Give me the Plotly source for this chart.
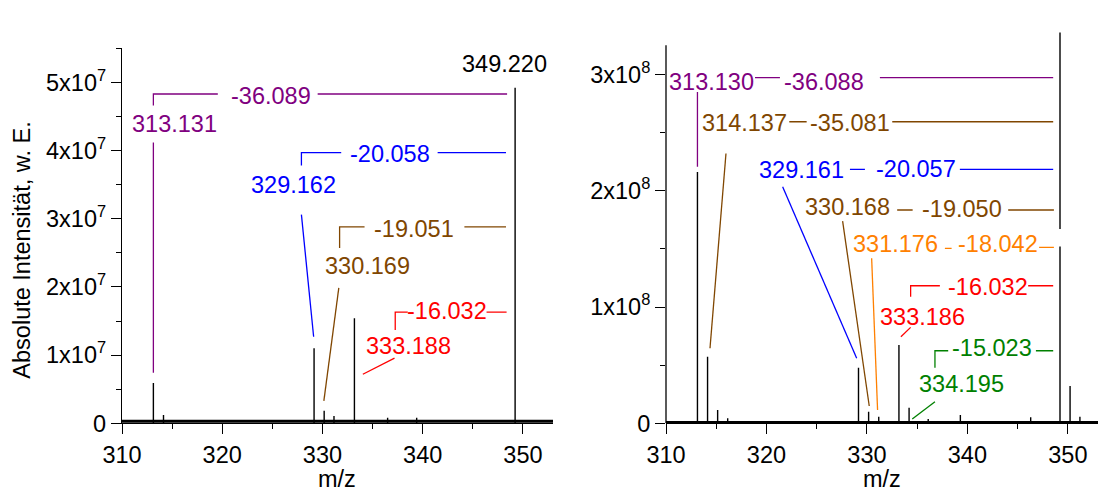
import plotly.graph_objects as go

# ---------------- data ----------------
left_mz = [313.131, 314.14, 329.162, 330.169, 331.15, 333.188, 336.5, 339.4, 349.220]
left_int = [5.9e6, 1.2e6, 1.10e7, 1.85e6, 1.07e6, 1.54e7, 0.8e6, 0.8e6, 4.92e7]

right_mz = [313.130, 314.137, 315.14, 316.14, 329.161, 330.168, 331.176, 333.186,
            334.195, 336.1, 339.3, 346.3, 349.218, 350.22, 351.2]
right_int = [2.16e8, 0.573e8, 0.114e8, 0.043e8, 0.478e8, 0.10e8, 0.057e8, 0.673e8,
             0.134e8, 0.037e8, 0.071e8, 0.052e8, 3.36e8, 0.32e8, 0.057e8]

x_ticks = [310, 320, 330, 340, 350]
x_minor = [315, 325, 335, 345]
left_yticks = [0, 1e7, 2e7, 3e7, 4e7, 5e7]
left_yticktext = ["0", "1x10<sup>7</sup>", "2x10<sup>7</sup>", "3x10<sup>7</sup>",
                  "4x10<sup>7</sup>", "5x10<sup>7</sup>"]
left_yminor = [0.5e7, 1.5e7, 2.5e7, 3.5e7, 4.5e7, 5.5e7]
right_yticks = [0, 1e8, 2e8, 3e8]
right_yticktext = ["0", "1x10<sup>8</sup>", "2x10<sup>8</sup>", "3x10<sup>8</sup>"]
right_yminor = [0.5e8, 1.5e8, 2.5e8]

PURPLE = "rgb(128,0,128)"
BLUE = "rgb(0,0,255)"
BROWN = "rgb(128,70,0)"
RED = "rgb(255,0,0)"
ORANGE = "rgb(255,128,0)"
GREEN = "rgb(0,128,0)"

# annotation groups: (color, label, label_pos, delta, delta_pos, polylines)
left_groups = [
    (PURPLE, "313.131", (315.25, 4.39e7), "-36.089", (324.9, 4.80e7),
     [[(313.131, 4.66e7), (313.131, 4.83e7), (319.56, 4.83e7)],
      [(329.52, 4.83e7), (348.42, 4.83e7)],
      [(313.131, 4.12e7), (313.131, 0.74e7)]]),
    (BLUE, "329.162", (327.06, 3.50e7), "-20.058", (336.77, 3.95e7),
     [[(327.90, 3.78e7), (327.90, 3.97e7), (331.87, 3.97e7)],
      [(341.49, 3.97e7), (348.31, 3.97e7)],
      [(327.90, 3.06e7), (329.12, 1.27e7)]]),
    (BROWN, "330.169", (334.53, 2.30e7), "-19.051", (339.18, 2.85e7),
     [[(331.71, 2.57e7), (331.71, 2.88e7), (334.20, 2.88e7)],
      [(344.16, 2.88e7), (348.31, 2.88e7)],
      [(331.63, 1.985e7), (330.14, 0.33e7)]]),
    (RED, "333.188", (338.59, 1.14e7), "-16.032", (342.42, 1.64e7),
     [[(337.26, 1.37e7), (337.26, 1.63e7), (338.51, 1.63e7)],
      [(346.37, 1.63e7), (348.37, 1.63e7)],
      [(337.19, 0.956e7), (334.03, 0.72e7)]]),
]
left_top_label = ("349.220", (348.15, 5.27e7))

right_groups = [
    (PURPLE, "313.130", (314.51, 2.937e8), "-36.088", (325.70, 2.937e8),
     [[(318.86, 2.972e8), (321.34, 2.972e8)],
      [(331.29, 2.972e8), (348.54, 2.972e8)],
      [(313.13, 2.849e8), (313.13, 2.206e8)]]),
    (BROWN, "314.137", (317.86, 2.585e8), "-35.081", (328.28, 2.585e8),
     [[(322.27, 2.593e8), (324.0, 2.593e8)],
      [(332.52, 2.593e8), (348.54, 2.593e8)],
      [(315.97, 2.32e8), (314.38, 0.645e8)]]),
    (BLUE, "329.161", (323.45, 2.178e8), "-20.057", (334.86, 2.19e8),
     [[(328.31, 2.184e8), (329.80, 2.184e8)],
      [(339.25, 2.184e8), (348.54, 2.184e8)],
      [(321.61, 2.034e8), (328.98, 0.559e8)]]),
    (BROWN, "330.168", (328.08, 1.862e8), "-19.050", (339.42, 1.84e8),
     [[(333.01, 1.834e8), (334.55, 1.834e8)],
      [(344.06, 1.834e8), (348.61, 1.834e8)],
      [(327.58, 1.739e8), (330.23, 0.149e8)]]),
    (ORANGE, "331.176", (332.82, 1.539e8), "-18.042", (343.06, 1.539e8),
     [[(337.76, 1.505e8), (338.43, 1.505e8)],
      [(347.14, 1.513e8), (348.61, 1.513e8)],
      [(330.47, 1.419e8), (331.06, 0.115e8)]]),
    (RED, "333.186", (335.54, 0.917e8), "-16.032", (342.04, 1.175e8),
     [[(334.35, 1.089e8), (334.35, 1.183e8), (337.26, 1.183e8)],
      [(346.05, 1.183e8), (348.54, 1.183e8)],
      [(334.35, 0.825e8), (333.38, 0.745e8)]]),
    (GREEN, "334.195", (339.42, 0.335e8), "-15.023", (342.49, 0.645e8),
     [[(336.77, 0.478e8), (336.77, 0.624e8), (338.09, 0.624e8)],
      [(346.82, 0.624e8), (348.54, 0.624e8)],
      [(336.77, 0.186e8), (334.51, 0.037e8)]]),
]
right_top_label = ("349.218", (349.30, 3.453e8))

left_baseline = 0.3e6
right_baseline = 1.2e6

FONT = "Arial, 'Liberation Sans', sans-serif"
FS = 23.5

fig = go.Figure()


def sticks(mz, inten):
    xs, ys = [], []
    for m, i in zip(mz, inten):
        xs += [m, m, None]
        ys += [0, i, None]
    return xs, ys


def add_spectrum(mz, inten, base, xa, ya, bw):
    fig.add_trace(go.Scatter(x=[310, 353], y=[base, base], mode="lines",
                             line=dict(color="black", width=bw),
                             xaxis=xa, yaxis=ya, hoverinfo="skip"))
    xs, ys = sticks(mz, inten)
    fig.add_trace(go.Scatter(x=xs, y=ys, mode="lines",
                             line=dict(color="black", width=1.4),
                             xaxis=xa, yaxis=ya, hoverinfo="skip"))


add_spectrum(left_mz, left_int, left_baseline, "x", "y", 3)
add_spectrum(right_mz, right_int, right_baseline, "x2", "y2", 2)

annotations = []


def add_groups(groups, top_label, xa, ya):
    for color, lab, lpos, dl, dpos, polys in groups:
        xs, ys = [], []
        for poly in polys:
            for (px, py) in poly:
                xs.append(px)
                ys.append(py)
            xs.append(None)
            ys.append(None)
        fig.add_trace(go.Scatter(x=xs, y=ys, mode="lines",
                                 line=dict(color=color, width=1.3),
                                 xaxis=xa, yaxis=ya, hoverinfo="skip"))
        for txt, pos in ((lab, lpos), (dl, dpos)):
            annotations.append(dict(text=txt, x=pos[0], y=pos[1], xref=xa, yref=ya,
                                    showarrow=False, xanchor="center", yanchor="middle",
                                    font=dict(color=color, size=FS, family=FONT)))
    txt, pos = top_label
    annotations.append(dict(text=txt, x=pos[0], y=pos[1], xref=xa, yref=ya,
                            showarrow=False, xanchor="center", yanchor="middle",
                            font=dict(color="black", size=FS, family=FONT)))


add_groups(left_groups, left_top_label, "x", "y")
add_groups(right_groups, right_top_label, "x2", "y2")

# axis titles
annotations.append(dict(text="Absolute Intensität, w. E.", x=0.0196, y=0.4929,
                        xref="paper", yref="paper", showarrow=False, textangle=-90,
                        xanchor="center", yanchor="middle",
                        font=dict(color="black", size=FS, family=FONT)))
for xc in (0.3054, 0.7982):
    annotations.append(dict(text="m/z", x=xc, y=0.0, xref="paper", yref="paper",
                            showarrow=False, xanchor="center", yanchor="bottom",
                            borderpad=0,
                            font=dict(color="black", size=FS, family=FONT)))

common_x = dict(range=[310, 353], tickmode="array", tickvals=x_ticks,
                ticks="outside", ticklen=10, tickwidth=1.3, tickcolor="black",
                minor=dict(tickmode="array", tickvals=x_minor, ticks="outside",
                           ticklen=5, tickwidth=1.3, tickcolor="black"),
                showline=True, linecolor="black", linewidth=1.3,
                showgrid=False, zeroline=False, automargin=False,
                tickfont=dict(size=FS, family=FONT, color="black"))

common_y = dict(tickmode="array", ticks="outside", ticklen=10, tickwidth=1.3,
                tickcolor="black", showgrid=False, zeroline=False, automargin=False,
                tickfont=dict(size=FS, family=FONT, color="black"))

fig.update_layout(
    width=1105, height=493,
    margin=dict(l=0, r=0, t=0, b=0, autoexpand=False),
    paper_bgcolor="white", plot_bgcolor="white",
    showlegend=False,
    annotations=annotations,
    xaxis=dict(domain=[122 / 1105, 553 / 1105], anchor="y", **common_x),
    xaxis2=dict(domain=[666 / 1105, 1098 / 1105], anchor="y2", **common_x),
    yaxis=dict(domain=[1 - 423.3 / 493, 1 - 48.3 / 493], anchor="x",
               range=[0, 5.5e7], tickvals=left_yticks, ticktext=left_yticktext,
               minor=dict(tickmode="array", tickvals=left_yminor, ticks="outside",
                          ticklen=5, tickwidth=1.3, tickcolor="black"),
               showline=True, linecolor="black", linewidth=1.3, **common_y),
    yaxis2=dict(domain=[1 - 423.3 / 493, 1 - 31.4 / 493], anchor="x2",
                range=[0, 3.37e8], tickvals=right_yticks, ticktext=right_yticktext,
                minor=dict(tickmode="array", tickvals=right_yminor, ticks="outside",
                           ticklen=5, tickwidth=1.3, tickcolor="black"),
                showline=False, **common_y),
    shapes=[dict(type="line", xref="x2 domain", yref="y2", x0=0, x1=0,
                 y0=0, y1=3.25e8, line=dict(color="black", width=1.3)),
            dict(type="rect", xref="x2", yref="y2", x0=348.9, x1=349.5,
                 y0=1.52e8, y1=1.67e8, fillcolor="white", line=dict(width=0),
                 layer="above")],
)

fig.write_html("out.html",
               config={"displayModeBar": False},
               post_script="document.body.style.margin='0';"
                           "document.body.style.overflow='hidden';")
